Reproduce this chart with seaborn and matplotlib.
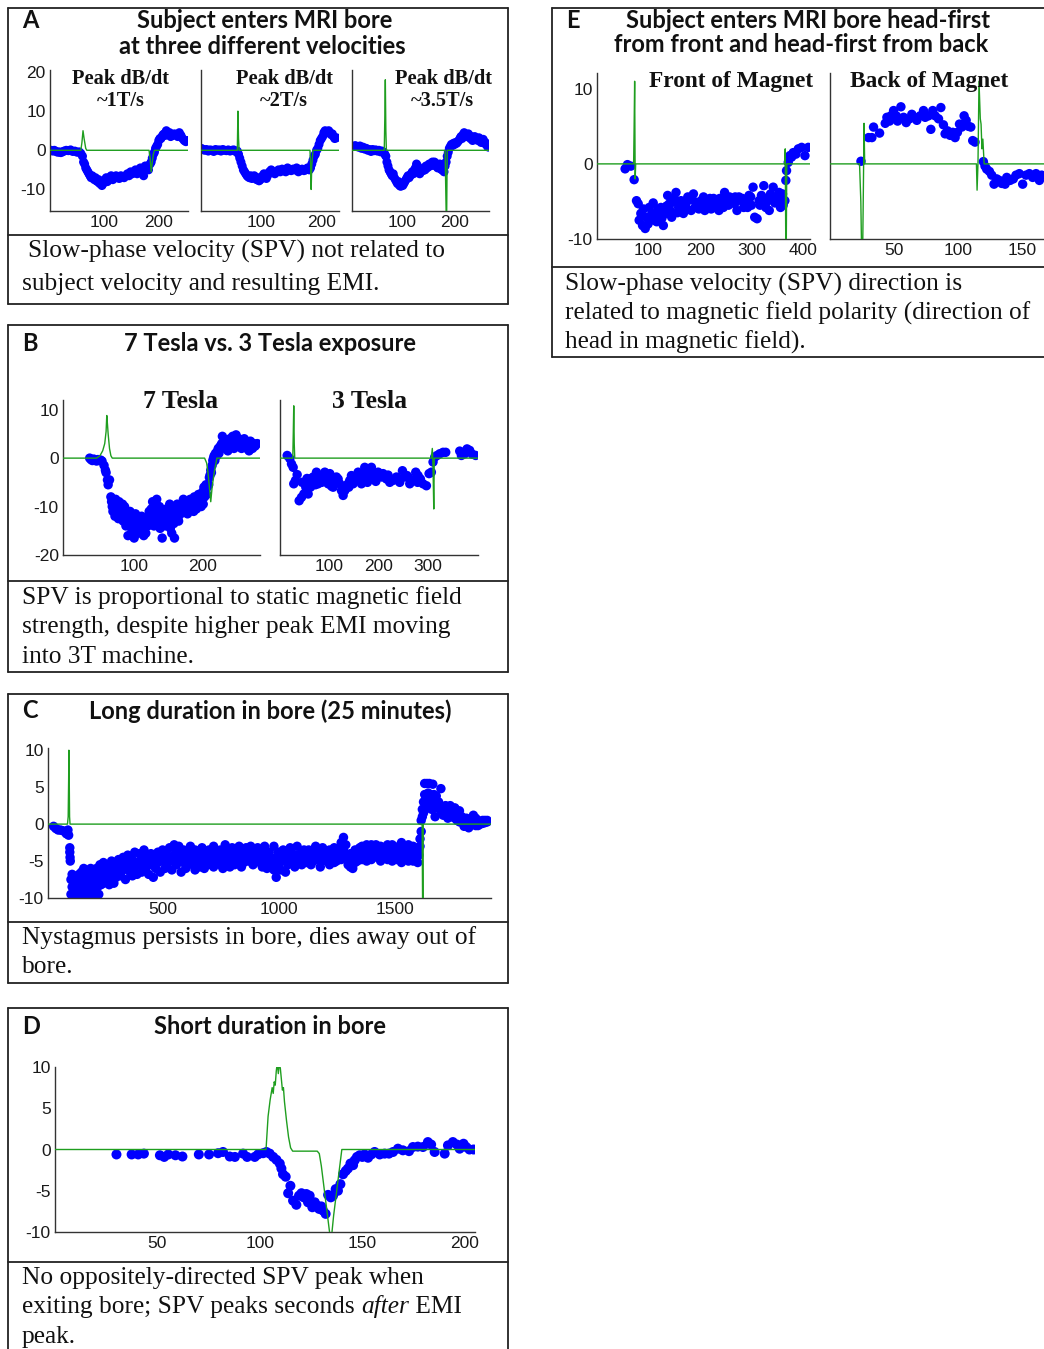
import numpy as np
import pandas as pd
import matplotlib
matplotlib.use("Agg")
import matplotlib.pyplot as plt
import seaborn as sns
from matplotlib.lines import Line2D

sns.set_style("white")
plt.rcParams["font.family"] = ["Liberation Sans", "DejaVu Sans"]
plt.rcParams["axes.unicode_minus"] = False

# ---------------- data (time in s, SPV in deg/s, EMI trace) ----------------
a1_spv = [(2,0),(5,-0.2),(8,0),(11,-0.3),(14,-0.5),(17,-0.4),(20,-0.6),(23,-0.4),(26,-0.2),(30,0),(34,-0.1),(38,0.1),(42,-0.3),(46,-0.2),(50,-0.5),(54,-0.4),(57,-0.8),
          (60,-1.5),(62,-3),(64,-3.5),(66,-4.5),(68,-5),(70,-5.5),(72,-6),(74,-6.5),(76,-7),(78,-6.5),(80,-7),(82,-7.5),(84,-7),(86,-7.8),(88,-8),(90,-7.5),(92,-8.5),(94,-8),(96,-9),(98,-8.5),(100,-8),(102,-7.5),(104,-7),(106,-8),(108,-7.5),(110,-7),
          (113,-6.5),(116,-7.5),(119,-7),(122,-6.5),(125,-7),(128,-7.2),(131,-6.5),(134,-6.8),(137,-7),(140,-6.5),(143,-6),(146,-6.5),(149,-5.5),(152,-6),(155,-5.5),(158,-5),(161,-6),(164,-5),(167,-4.5),(170,-5.5),(173,-6.5),(176,-4),(179,-4.5),(182,-5),(185,-3.5),
          (187,-3),(189,-2),(191,-1),(193,-0.5),(195,0.5),(197,1),(199,1.5),(201,2.5),(203,3),(205,3),(207,3.5),(209,4),(211,4.2),(213,3.8),(215,5),(217,4.5),(219,4),(221,4.5),(223,3.5),(225,4),(227,3.8),
          (230,4.2),(233,4),(236,3.5),(239,4.5),(242,3.8),(245,3),(248,2.5),(251,2.2),(254,2.5)]
a1_emi = [(0,0),(57,0),(59,2),(61,5),(63,3),(66,0.5),(68,0),(183,0),(185,-2),(187,-5.5),(189,-3),(191,-1),(193,0),(255,0)]

a2_spv = [(0,0.5),(3,0.3),(6,0),(9,0.2),(12,-0.2),(15,0.1),(18,0),(21,-0.3),(24,0.2),(27,0),(30,0.1),(33,-0.2),(36,0.2),(39,0),(42,-0.1),(45,0.1),(48,-0.2),(51,0),(54,0.1),(57,-0.3),(60,-0.2),
          (62,-1),(64,-2),(66,-3),(68,-4),(70,-5),(72,-5.5),(74,-6),(76,-6.5),(78,-6.8),(80,-7),(82,-6.5),(84,-7.2),(86,-7),(88,-6.5),(90,-7),(92,-7.5),(94,-7),(96,-7.8),(98,-7.5),(100,-7),(102,-6.5),(104,-6),(106,-6.5),(108,-7.2),(110,-6.5),
          (113,-5.5),(116,-5),(119,-5.5),(122,-6),(125,-5.5),(128,-5),(131,-5.5),(134,-4.8),(137,-5.2),(140,-5.5),(143,-4.5),(146,-5),(149,-5.2),(152,-4.8),(155,-5),(158,-4.5),(161,-5.5),(164,-5),(167,-4.8),(170,-5.2),(173,-5),(176,-4.5),(179,-5),
          (181,-4.5),(183,-3.5),(185,-2.5),(187,-1.5),(189,-1),(191,0),(193,0.5),(195,1.5),(197,2.5),(199,3),(201,3.5),(203,4.5),(205,5),(207,4.8),(209,4.5),(211,5),(213,4.5),(215,4),(217,4.2),(219,3.5),(221,3),(224,3.2)]
a2_emi = [(0,0),(60,0),(61,10),(62,3),(63,0),(180,0),(181,-3),(182,-10),(183,-4),(185,0),(228,0)]

a3_spv = [(9,1),(12,1.2),(15,1),(18,0.8),(21,1.1),(24,0.5),(27,0.8),(30,0.3),(33,0.5),(36,0),(39,0.2),(42,-0.3),(45,0.2),(48,-0.1),(51,0.1),(54,-0.2),(57,0),(60,-0.4),(63,-0.2),(66,-0.5),
          (68,-1),(70,-1.5),(72,-3),(74,-4),(76,-5),(78,-5.5),(80,-6),(82,-6.5),(84,-6),(86,-7),(88,-7.5),(90,-8),(92,-8.5),(94,-8),(96,-9),(98,-9.2),(100,-8.8),(102,-9),(104,-8.5),(106,-8),(108,-7.5),(110,-7),
          (112,-6.5),(114,-7),(116,-6.5),(118,-6),(120,-5.5),(122,-6),(124,-5),(126,-4.5),(128,-3.5),(130,-4),(132,-5.5),(134,-6),(136,-5.5),(138,-5),(140,-5.2),(142,-4.5),(144,-5),(146,-4),(148,-4.5),(150,-4.2),
          (152,-3.5),(154,-4),(156,-3.8),(158,-3),(160,-3.5),(162,-3),(164,-4),(166,-3.5),(168,-4.5),(170,-4),(172,-3.5),(174,-4.8),(176,-5),(178,-4),(180,-5.5),(182,-4),(184,-3),(186,-1.5),(188,-0.5),
          (190,0.5),(192,1),(194,1.5),(196,1.2),(198,1.8),(200,1.5),(202,2),(204,1.8),(206,2.2),(208,2.5),(210,3),(212,3.5),(214,3),(216,4),(218,4.5),(220,4),(222,3.5),(224,3.8),(226,4.2),(228,3.5),
          (230,3),(232,3.5),(234,2.5),(236,3),(238,3.5),(240,3),(242,2.8),(244,2.5),(246,3.2),(248,2.5),(250,2),(252,2.5),(254,2.8),(256,1.8),(258,2),(260,1.5),(262,1),(264,0.8)]
a3_emi = [(6,0),(67,0),(68,8),(69,18),(70,5),(71,0),(182,0),(183,-8),(184,-16),(185,-16),(186,0),(264,0)]

b7_spv = [(35,0),(37,-0.3),(39,-0.5),(41,-0.2),(43,-0.4),(45,-0.6),(47,-0.3),(49,-0.5),(51,-0.4),(53,-0.6),(56,-1.5),(58,-2.5),(59,-3),(61,-4.5),(62,-5.5),(64,-4.5),
          (66,-8),(67,-9),(68,-10),(69,-11),(70,-9.5),(71,-10.5),(72,-12),(73,-8.5),(74,-9.5),(75,-11),(76,-10),(77,-12.5),(78,-9),(79,-10),(80,-11),(81,-12),(82,-10.5),(83,-9.5),(84,-13),(85,-11.5),(86,-10),(87,-12),(88,-14),(89,-11),(90,-13.5),
          (91,-16),(92,-12),(94,-11),(95,-13),(96,-14.5),(97,-12.5),(98,-15),(99,-13),(100,-16.5),(101,-12),(102,-11.5),(103,-14),(105,-13),(106,-15.5),(107,-12.5),(108,-14),(109,-13),(110,-15),(111,-12),(112,-14.5),(114,-16),(115,-13.5),
          (116,-12.5),(117,-15.5),(118,-13),(120,-14),(121,-12),(122,-11),(123,-13.5),(124,-12.5),(125,-10.5),(126,-13),(127,-9),(128,-11.5),(129,-14),(130,-12),(131,-10.5),(132,-13),(133,-8.5),(134,-11),(135,-12),(137,-10),(138,-14.5),
          (139,-13),(140,-12),(141,-16.5),(142,-11),(144,-13.5),(145,-12),(146,-14),(147,-10.5),(148,-12.5),(150,-13),(151,-11),(152,-9.5),(153,-14.5),(154,-12),(155,-15.5),(156,-10),(157,-11.5),(158,-13.5),(159,-16.5),(160,-12),
          (162,-11),(163,-9.5),(164,-12.5),(165,-13),(166,-10.5),(168,-11.5),(170,-9.5),(171,-10),(172,-8.5),(174,-11),(175,-10),(176,-9),(178,-11.5),(179,-9.5),(180,-10.5),(182,-8.5),(183,-10),(184,-9),(186,-9.5),(187,-11),
          (188,-8),(190,-9),(191,-10.5),(192,-8.5),(194,-7.5),(195,-9.5),(196,-8.5),(198,-10),(199,-8),(200,-7),(201,-9.5),(202,-6),(203,-8),(204,-6.5),(205,-5.5),(206,-7.5),(207,-6),(209,-5.5),(210,-4),(211,-3.5),(212,-2.5),
          (213,-3),(214,-1.5),(215,-0.5),(216,0),(217,0.5),(218,-0.5),(219,1),(221,0.5),(222,1.5),(223,2),(224,1),(226,2.5),(227,2),(228,3),(229,4.5),(230,2.5),(232,3),(233,2),(234,3.5),(236,2.5),(237,1.5),(238,3),(240,4),
          (241,2.5),(242,3.5),(244,4.5),(245,3),(246,2),(248,3.5),(249,4.8),(250,3),(252,2.5),(253,4),(254,3.5),(256,3),(257,2),(258,3.5),(260,3),(261,4),(262,2.5),(264,3.5),(265,2),(266,3),(268,1.5),(269,2.5),(270,3.5),
          (272,3),(273,2),(275,3),(277,2.5),(280,3)]
b7_emi = [(-4,0),(45,0),(50,0.5),(54,1.5),(57,3),(59,5.5),(60,8.8),(61,7),(62,5),(64,2),(66,0.5),(68,0),(203,0),(206,-1),(208,-3),(210,-6),(212,-9),(214,-6),(217,-3),(221,0),(284,0)]

b3_spv = [(14.6,0.55),(20,-0.1),(23.4,-1.2),(26.8,-1.9),(28,-5.3),(31.5,-4.6),(34.9,-3.4),(39,-8.8),(43.7,-8.1),(48.5,-7.4),(52.5,-6),(57.3,-7.4),(60.7,-4.3),(64.1,-5.3),(67.5,-3.9),(70.8,-4.6),(74.2,-2.9),
          (77.6,-5.3),(81,-4.3),(84.4,-3.6),(87.8,-4.6),(91.2,-2.9),(94.6,-3.9),(98,-5.3),(101.4,-3.2),(104.7,-4.3),(108.1,-6),(111.5,-4.6),(114.9,-3.9),(118.3,-4.3),(121.7,-5.3),(125.1,-6.7),(128.5,-7.7),(131.9,-6.7),
          (135.3,-5.7),(138.6,-5.3),(142,-4.6),(145.4,-3.6),(148.8,-5.3),(152.2,-3.9),(155.6,-4.6),(159,-2.9),(162.4,-3.9),(165.8,-5.3),(169.2,-3.2),(172.5,-1.9),(175.9,-4.3),(179.3,-3.6),(182.7,-2.6),(186.1,-1.9),
          (189.5,-3.9),(192.9,-3.2),(196.3,-3.9),(199.7,-2.9),(203,-3.6),(206.4,-3.9),(209.8,-3.2),(213.2,-3.6),(216.6,-4.3),(223.4,-5),(230.2,-4.6),(237,-3.9),(243.7,-5),(249.2,-2.6),(253.9,-3.9),(258.6,-3.6),
          (264.1,-5.3),(270.8,-4.6),(276.3,-2.9),(281,-3.6),(285.8,-4.3),(291.2,-5.3),(298,-5.7),(303.4,-3.2),(308.1,-2.9),(311.5,-0.8),(314.9,0.2),(319.7,0.55),(325.1,0.9),(331.9,1.2),(337.3,1.2),
          (365.8,1.45),(369.2,0.55),(376,0.9),(380.7,1.9),(386.1,1.6),(391.5,0.8),(398.3,0.55),
          (45,-5),(55,-4.2),(62,-6),(72,-5.5),(85,-5),(95,-4.5),(105,-5.8),(118,-5),(140,-6),(160,-4.2),(178,-5),(195,-4.8),(220,-3.5),(240,-4.2),(262,-4),(280,-5)]
b3_emi = [(0,0),(26,0),(27,5),(28,10.8),(29,3),(30,0),(308,0),(310,2),(311,0),(312,-5),(313,-10.5),(314,0),(403,0)]

c_spv = [(30,-0.3),(40,-0.6),(50,-0.8),(60,-0.8),(70,-0.9),(80,-1.0),(85,-1.3),(90,-1.2),(92,-0.8),(95,-1.5),(100,-3.2),(100,-3.8),(101,-4.5),(102,-5),
         (105,-7.5),(105,-9.5),(110,-8.5),(110,-6.8),(115,-9.8),(115,-7.8),(120,-8.8),(120,-9.5),(125,-7.2),(125,-8.5),(130,-9),(130,-7.5),(135,-8),(135,-9.8),(140,-6.8),(140,-8.8),(145,-7.8),(145,-9.2),
         (150,-8.5),(150,-6.5),(155,-7),(155,-9),(160,-8.2),(160,-6),(165,-7.5),(165,-9.5),(170,-6.5),(170,-8),(175,-8.8),(175,-7.2),(180,-6.8),(180,-8.2),(185,-7.8),(185,-9),(190,-6),(190,-8.5),
         (195,-7),(195,-10),(200,-8),(200,-6.2),(205,-7.2),(205,-9),(210,-6.5),(210,-8),(215,-7.8),(215,-6),(220,-8.5),(220,-7),(225,-6.8),(225,-9.5),(230,-5.5),(230,-7.5),(235,-7),(235,-8.2),
         (240,-6.2),(240,-7.8),(245,-5.2),(245,-8),(250,-6.5),(250,-7.2),
         (260,-5.5),(260,-7.5),(270,-6.5),(270,-8.2),(280,-5),(280,-7),(290,-6),(290,-8),(300,-5.2),(300,-7.2),(310,-6.5),(310,-4.8),(320,-5.5),(320,-7),(330,-4.5),(330,-6.2),(340,-6),(340,-7.5),
         (350,-5),(350,-4.2),(360,-6.5),(360,-5.5),(370,-4.8),(370,-7),(380,-3.8),(380,-5.8),(390,-5.2),(390,-6.8),(400,-4),(400,-5.5),
         (410,-6.5),(410,-4.5),(420,-3.5),(420,-5),(430,-5.8),(430,-4.2),(440,-6.8),(440,-4.8),(450,-4),(450,-5.5),(460,-7.2),(460,-5),(470,-4.5),(470,-6),(480,-3.8),(480,-5.2),(490,-6.5),(490,-4.2),
         (500,-5),(500,-3.5),(510,-6),(510,-4.5),(520,-4.2),(520,-5.8),(530,-3.2),(530,-5),(540,-4.8),(540,-6.2),(550,-2.8),(550,-4.2),(560,-5.5),(560,-3.5),(570,-3),(570,-4.8),(580,-6.5),(580,-4),
         (590,-3.5),(590,-5.2),(600,-4.5),(600,-6),(610,-3.8),(610,-5),(620,-4.2),(620,-3),(630,-5.5),(630,-4.5),(640,-3.5),(640,-6.2),(650,-4.8),(650,-3.8),(660,-5.8),(660,-4.2),(670,-3.2),(670,-5),
         (680,-4.5),(680,-6),(690,-3.8),(690,-5.2),(700,-4.8),(700,-3.5),(710,-5.5),(710,-4.2),(720,-3),(720,-5.8),(730,-4.5),(730,-3.8),(740,-5.2),(740,-4),(750,-3.5),(750,-5.5),(760,-4.2),(760,-6),
         (770,-2.8),(770,-4.8),(780,-5),(780,-3.5),(790,-4),(790,-5.8),(800,-3.2),(800,-4.5),(810,-5.5),(810,-3.8),(820,-4.2),(820,-5),(830,-3),(830,-4.8),(840,-5.8),(840,-4),(850,-3.5),(850,-5.2),
         (860,-4.5),(860,-3.2),(870,-5),(870,-3.8),(880,-3),(880,-4.5),(890,-5.5),(890,-4),(900,-3.8),(900,-5),(910,-4.5),(910,-3.2),(920,-5.2),(920,-4),(930,-3.5),(930,-5.8),(940,-4.2),(940,-3),
         (950,-5),(950,-6),(960,-3.8),(960,-4.5),(970,-4.8),(970,-5.5),(980,-3),(980,-6.2),(990,-7.2),(990,-4.5),(1000,-5.5),(1000,-3.8),(1010,-6.2),(1010,-4.2),(1020,-4.8),(1020,-3.5),(1030,-6.5),(1030,-5),
         (1040,-4),(1040,-5.5),(1050,-3.2),(1050,-4.8),(1060,-5.2),(1060,-4),(1070,-4.5),(1070,-5.8),(1080,-3),(1080,-4.2),(1090,-5),(1090,-4.5),(1100,-3.8),(1100,-5.5),(1110,-4.8),(1110,-3.5),
         (1120,-5.2),(1120,-4.2),(1130,-3.5),(1130,-4.8),(1140,-5.5),(1140,-4),(1150,-4.2),(1150,-5),(1160,-3),(1160,-4.5),(1170,-4.8),(1170,-3.8),(1180,-5.8),(1180,-4),(1190,-3.2),(1190,-5),
         (1200,-4.5),(1200,-3.8),(1210,-5),(1210,-4.2),(1220,-3.5),(1220,-5.5),(1230,-4),(1230,-4.8),(1240,-5.2),(1240,-3.2),(1250,-4.2),(1250,-5),(1260,-3.5),(1260,-4.5),(1270,-2.5),(1270,-4.8),
         (1280,-1.8),(1280,-3.5),(1290,-2.8),(1290,-4.2),(1300,-4.5),(1300,-5.5),(1310,-5.8),(1310,-4),(1320,-6),(1320,-4.8),(1330,-5.2),(1330,-3.5),(1340,-4),(1340,-5),(1350,-3.2),(1350,-4.5),
         (1360,-4.8),(1360,-3),(1370,-3.5),(1370,-4.2),(1380,-2.8),(1380,-5),(1390,-4),(1390,-3.2),(1400,-4.8),(1400,-2.8),(1410,-3.5),(1410,-4.5),(1420,-2.8),(1420,-4),(1430,-4.2),(1430,-3.2),
         (1440,-3),(1440,-5),(1450,-4.5),(1450,-3.5),(1460,-3.2),(1460,-4.2),(1470,-4.8),(1470,-2.8),(1480,-3.5),(1480,-4.5),(1490,-2.8),(1490,-5),(1500,-4),(1500,-3.2),(1510,-3.5),(1510,-4.8),
         (1520,-4.2),(1520,-3),(1530,-2.5),(1530,-5.2),(1540,-3.8),(1540,-4.5),(1550,-4.5),(1550,-3.2),(1560,-2.8),(1560,-5),(1570,-4),(1570,-3.5),(1580,-5),(1580,-3),(1590,-3.8),(1590,-4.5),
         (1600,-5.2),(1600,-4),(1605,-4.2),(1605,-3.2),(1610,-3),(1610,-2),(1615,-1),(1615,0.5),(1620,1),(1620,2),
         (1625,3),(1625,1.5),(1630,4),(1630,5.5),(1635,3.5),(1635,2.5),(1640,5.5),(1640,3),(1645,4.2),(1645,2.2),(1650,3.5),(1650,5.5),(1655,2.8),(1655,4),(1660,3.5),(1660,2),(1665,5.4),(1665,3.8),
         (1670,2.5),(1670,4),(1675,1),(1675,3.2),(1680,3.8),(1680,2.2),(1690,3),(1690,2.5),(1700,4.8),(1700,1.8),(1710,2.2),(1710,1.2),(1720,1.5),(1720,2.5),(1730,2),(1730,0.8),(1740,2.5),(1740,1.2),
         (1750,1.8),(1750,1),(1760,2.2),(1760,0.8),(1770,1.5),(1770,0.5),(1780,1.8),(1780,0.3),(1790,1),(1790,0.5),(1800,0.5),(1800,-0.3),(1810,0.8),(1810,0.2),(1820,-0.5),(1820,0.3),(1830,0.5),(1830,0),
         (1840,1.2),(1840,0.2),(1850,0.8),(1850,-0.2),(1860,-0.2),(1860,0.5),(1870,0.3),(1870,0),(1880,0.5),(1880,0.1),(1890,0.2),(1890,0.5),(1900,0.5),(1900,0.3)]
c_emi = [(6,0),(90,0),(93,1),(95,6),(96,10),(97,8),(99,1),(101,0),(1619,0),(1620,-5),(1621,-10.5),(1623,-10.5),(1624,0),(1916,0)]

d_spv = [(30,-0.6),(37.4,-0.6),(40.6,-0.6),(43.4,-0.5),(51.2,-0.7),(53.3,-0.9),(55.3,-0.6),(58.8,-0.7),(62.2,-0.85),(70.2,-0.6),(75.2,-0.6),(79.6,-0.45),(82,-0.3),(85.3,-0.85),(87.8,-0.9),
         (91.8,-0.5),(93.8,-0.9),(97.5,-0.9),(99.1,-0.6),(101.6,-0.45),(103.2,-0.3),(104.8,-0.5),(106.5,-0.9),(108.1,-1.25),(109.7,-1.7),(110.5,-2.3),(111.3,-3),(112.6,-3.3),(114.9,-4.4),(113.8,-5.3),
         (116.2,-6.2),(117.8,-6.7),(119.1,-5.6),(120.3,-5.3),(121.4,-5.8),(122.7,-5.4),(123.5,-6.4),(124.3,-5.6),(125.6,-7),(126.8,-6.4),(127.9,-6.8),(128.9,-7.2),(130,-6.9),(130.8,-7.4),(132.1,-7.8),
         (133.3,-5.5),(134.6,-5.8),(135.7,-5.6),(137,-4.8),(138.1,-5),(139.3,-4.2),(140.6,-3),(141.9,-2.6),(143,-2.3),(144.2,-1.7),(145.5,-1.9),(146.3,-1.3),(147.4,-0.9),(148.7,-0.7),(150,-0.9),
         (151.1,-0.6),(152.8,-1),(154.4,-0.6),(156,-0.3),(158.5,-0.6),(160.9,-0.5),(163,-0.5),(165,-0.3),(167.4,0.1),(169.8,-0.1),(172.8,-0.2),(174.7,0.3),(177.1,0.35),(179.6,0.3),(182,0.9),
         (183.6,0.6),(185.3,-0.3),(190.2,-0.5),(191.8,0.5),(194.2,0.9),(196.2,0.6),(197.5,0.1),(199.4,0.7),(200.7,0.3),(202.3,0),(204.3,0)]
d_emi = [(0,0),(103,0),(104,4),(105,6),(106,7.5),(106.5,6.8),(107,8.2),(107.5,7.8),(108,9.5),(108.5,10.5),(109,9.2),(109.5,10.5),(110,9.8),(110.5,8.5),(111,7.2),(111.5,7.5),(112,5.8),(113,3.5),
         (114,1.5),(115,0.2),(116,-0.2),(128,-0.2),(129,-0.5),(130,-2),(132,-6),(134,-10),(135,-10.5),(136,-8),(138,-4),(140,0),(205,0)]

e1_spv = [(54.5,-0.66),(59,-0.1),(65.6,-0.3),(72,-2.1),(76.6,-4.9),(79.9,-5.3),(81.8,-7.5),(85,-6.6),(88.3,-8.2),(93.5,-8.6),(96,-7.1),(101.3,-5.8),(106.5,-6.6),(111,-7.5),(115.6,-7.7),
          (120.8,-6.9),(124,-5.8),(128.6,-8.2),(132.5,-6.6),(137,-4.2),(140.3,-5.3),(144.8,-7.1),(148,-5.1),(153.2,-3.8),(158.4,-5.8),(163,-4.9),(167.5,-6.6),(171.4,-5.5),(176,-4.4),(182.5,-6.2),
          (187,-4),(192.2,-5.1),(197.4,-6),(202,-4.9),(206.5,-4.4),(211.7,-5.5),(216.9,-5.1),(221.4,-6),(226,-4.6),(231.2,-5.3),(236.4,-6.2),(240.9,-5.1),(247.4,-3.8),(252,-4.9),(257,-4.4),
          (262.3,-4.9),(266.9,-5.3),(271.4,-6.2),(275.3,-4.4),(279.9,-4.9),(284.4,-5.8),(289.6,-5.1),(294.8,-4.2),(299.4,-5.5),(302.6,-3.1),(305.8,-7.1),(310.4,-7.3),(314.3,-4.9),(318.8,-4.2),
          (323.4,-2.9),(327.3,-5.8),(331.8,-4.9),(336.4,-4),(341.6,-3.1),(346.8,-4.4),(351.3,-4.9),(355.8,-5.8),(359.7,-4),(364.3,-4.9),(366.2,-2.2),(367.5,-0.9),(370.8,0.2),(374,1.1),(377.3,0.9),
          (380.5,1.5),(385.7,1.3),(390.3,2),(396.8,2.2),(403.2,1.1),(409.7,2.2),
          (90,-6),(99,-8),(109,-5.2),(118,-6),(126,-7.2),(135,-5.6),(142,-6.2),(150,-4.6),(156,-6.5),(165,-5.4),(174,-6),(180,-4.8),(190,-5.8),(200,-5.5),(209,-6.2),(219,-4.6),(229,-5.8),(238,-4.6),
          (245,-5.8),(255,-5.5),(268,-4.4),(282,-4.6),(292,-5.8),(298,-4.4),(316,-5.5),(325,-4.6),(334,-6.2),(345,-5.2),(353,-3.8),(361,-5.5)]
e1_emi = [(0,0),(71,0),(72,5),(73,11),(74,-2),(75,0),(364,0),(365,2),(366,-10.5),(367,-10.5),(368,0),(413,0)]

e2_spv = [(24.1,0.35),(30,3.5),(32.6,3.5),(33.9,4.9),(38.6,4.1),(43,5.4),(44.3,6.2),(46.4,5.7),(47.4,6.4),(49.5,7.1),(51.6,6.4),(52.6,5.7),(55.2,7.6),(57.3,6.2),(59.3,5.5),(61.9,6),(63.7,6.6),
          (65.5,6.2),(67.6,5.8),(70.2,6.4),(72.8,7.1),(74.1,6.2),(76.7,6.4),(78.5,4.6),(80,7.1),(81.9,6.4),(84.5,6),(86.3,7.5),(88.3,5.2),(89.6,4),(91.5,4.4),(93.5,3.8),(95.6,4.2),(97.4,3.5),
          (99.2,4.2),(100.8,5.3),(102.6,4.9),(104.4,6.4),(106,5.8),(107.8,5),(109.6,4.9),(111.1,3.1),(112.9,2.9),(119.4,0.3),(120.7,-0.3),(122,-0.7),(124.1,-1),(125.9,-1.5),(127.7,-2.7),(129.8,-2),
          (131.9,-2.2),(133.7,-2.6),(136.3,-2.7),(137.6,-1.8),(140.2,-2.2),(142.7,-2),(144.8,-1.5),(147.4,-1.3),(150,-2.7),(152.6,-1.5),(155.2,-1.3),(157.8,-1.8),(160.4,-1.3),(163,-2.2),(164.8,-1.5)]
e2_emi = [(0,0),(23,0),(24,-5),(24.5,-10.5),(25.5,-10.5),(26,-3),(26.5,5.4),(27,0),(113,0),(114,0),(114.5,-3.5),(115.2,0),(116,11),(117,6),(117.6,5.3),(118.3,2),(119,3.3),(120,0),(166.6,0)]

# ---------------- layout helpers (pixel coordinates, top-left origin) ----------------
W, H = 1044, 1349
fig = plt.figure(figsize=(W / 100, H / 100), dpi=100)
BLUE = "#0000ff"
GREEN = "#1f9e1f"
AXC = "#333333"

def ax_at(l, t, r, b):
    return fig.add_axes([l / W, 1 - b / H, (r - l) / W, (b - t) / H])

def txt(x, y, s, **kw):
    kw.setdefault("va", "center")
    return fig.text(x / W, 1 - y / H, s, **kw)

def hline(x1, x2, y, lw=1.3):
    fig.add_artist(Line2D([x1 / W, x2 / W], [1 - y / H, 1 - y / H], color="#222222", lw=lw))

def vline(x, y1, y2, lw=1.3):
    fig.add_artist(Line2D([x / W, x / W], [1 - y1 / H, 1 - y2 / H], color="#222222", lw=lw))

def panel(ax, spv, emi, xlim, ylim, xticks, yticks, ylabels=True, s=40):
    d = pd.DataFrame(spv, columns=["t", "spv"])
    e = pd.DataFrame(emi, columns=["t", "emi"])
    sns.scatterplot(data=d, x="t", y="spv", ax=ax, color=BLUE, s=s, edgecolor="none", linewidth=0, zorder=2)
    sns.lineplot(data=e, x="t", y="emi", ax=ax, color=GREEN, linewidth=1.0, estimator=None, sort=False, zorder=3)
    ax.set_xlim(*xlim)
    ax.set_ylim(*ylim)
    ax.set_xticks(xticks)
    ax.set_yticks(yticks)
    ax.set_xlabel("")
    ax.set_ylabel("")
    ax.patch.set_alpha(0)
    for sp in ["top", "right"]:
        ax.spines[sp].set_visible(False)
    for sp in ["left", "bottom"]:
        ax.spines[sp].set_color(AXC)
        ax.spines[sp].set_linewidth(1.0)
    ax.tick_params(direction="in", length=4, width=0.8, colors=AXC, labelcolor="#1a1a1a", labelsize=12.5, pad=3)
    if not ylabels:
        ax.set_yticklabels([])
    return ax

TITLE = dict(family="Lato", weight="bold", fontsize=17, color="#111111")
CAP = dict(family="Liberation Serif", fontsize=18.3, color="#111111")

# ---------------- Panel A ----------------
hline(8, 508, 8); hline(8, 508, 304); hline(8, 508, 235)
vline(8, 8, 304); vline(508, 8, 304)
txt(22, 21, "A", ha="left", **TITLE)
txt(265, 21, "Subject enters MRI bore", ha="center", **TITLE)
txt(262, 46, "at three different velocities", ha="center", **TITLE)
ylimA = (-15.5, 20.5)
panel(ax_at(50, 70, 188, 211), a1_spv, a1_emi, (0, 255), ylimA, [100, 200], [-10, 0, 10, 20], s=42)
panel(ax_at(201, 70, 339, 211), a2_spv, a2_emi, (0, 228), ylimA, [100, 200], [-10, 0, 10, 20], ylabels=False, s=42)
panel(ax_at(352, 70, 489, 211), a3_spv, a3_emi, (6, 265), ylimA, [100, 200], [-10, 0, 10, 20], ylabels=False, s=42)
SUBA = dict(family="Liberation Serif", weight="bold", fontsize=14.7, color="#111111", ha="center")
txt(121, 79, "Peak dB/dt", **SUBA); txt(121, 101, "~1T/s", **SUBA)
txt(284, 79, "Peak dB/dt", **SUBA); txt(284, 101, "~2T/s", **SUBA)
txt(443, 79, "Peak dB/dt", **SUBA); txt(442, 101, "~3.5T/s", **SUBA)
txt(28, 251, "Slow-phase velocity (SPV) not related to", ha="left", **CAP)
txt(22, 284, "subject velocity and resulting EMI.", ha="left", **CAP)

# ---------------- Panel B ----------------
hline(8, 508, 325); hline(8, 508, 672); hline(8, 508, 581)
vline(8, 325, 672); vline(508, 325, 672)
txt(22, 343, "B", ha="left", **TITLE)
txt(270, 343, "7 Tesla vs. 3 Tesla exposure", ha="center", **TITLE)
ylimB = (-20, 12)
panel(ax_at(63, 400, 260, 555), b7_spv, b7_emi, (-4, 284), ylimB, [100, 200], [-20, -10, 0, 10], s=46)
panel(ax_at(280, 400, 478, 555), b3_spv, b3_emi, (0, 403), ylimB, [100, 200, 300], [-10, 0, 10], ylabels=False, s=46)
SUBB = dict(family="Liberation Serif", weight="bold", fontsize=18.5, color="#111111", ha="center")
txt(181, 402, "7 Tesla", **SUBB)
txt(370, 402, "3 Tesla", **SUBB)
txt(22, 598, "SPV is proportional to static magnetic field", ha="left", **CAP)
txt(22, 627, "strength, despite higher peak EMI moving", ha="left", **CAP)
txt(22, 657, "into 3T machine.", ha="left", **CAP)

# ---------------- Panel C ----------------
hline(8, 508, 694); hline(8, 508, 983); hline(8, 508, 922)
vline(8, 694, 983); vline(508, 694, 983)
txt(22, 711, "C", ha="left", **TITLE)
txt(270, 711, "Long duration in bore (25 minutes)", ha="center", **TITLE)
panel(ax_at(48, 748, 491, 898), c_spv, c_emi, (6, 1916), (-10, 10.3), [500, 1000, 1500], [-10, -5, 0, 5, 10], s=46)
txt(22, 938, "Nystagmus persists in bore, dies away out of", ha="left", **CAP)
txt(22, 967, "bore.", ha="left", **CAP)

# ---------------- Panel D ----------------
hline(8, 508, 1008); hline(8, 508, 1262)
vline(8, 1008, H); vline(508, 1008, H)
txt(22, 1026, "D", ha="left", **TITLE)
txt(270, 1026, "Short duration in bore", ha="center", **TITLE)
panel(ax_at(55, 1067, 475, 1232), d_spv, d_emi, (0, 205), (-10, 10), [50, 100, 150, 200], [-10, -5, 0, 5, 10], s=52)
txt(22, 1278, "No oppositely-directed SPV peak when", ha="left", **CAP)
t1 = txt(22, 1307, "exiting bore; SPV peaks seconds ", ha="left", **CAP)
renderer = fig.canvas.get_renderer()
bb = t1.get_window_extent(renderer=renderer)
t2 = fig.text(bb.x1 / W, 1 - 1307 / H, "after", ha="left", va="center", style="italic", **CAP)
bb2 = t2.get_window_extent(renderer=renderer)
fig.text(bb2.x1 / W, 1 - 1307 / H, " EMI", ha="left", va="center", **CAP)
txt(22, 1337, "peak.", ha="left", **CAP)

# ---------------- Panel E ----------------
hline(552, W, 8); hline(552, W, 357); hline(552, W, 267)
vline(552, 8, 357)
txt(566, 21, "E", ha="left", **TITLE)
txt(808, 21, "Subject enters MRI bore head-first", ha="center", **TITLE)
txt(801, 45, "from front and head-first from back", ha="center", **TITLE)
ylimE = (-10, 12.1)
panel(ax_at(597, 73, 810, 239), e1_spv, e1_emi, (0, 413), ylimE, [100, 200, 300, 400], [-10, 0, 10], s=46)
panel(ax_at(830, 73, 1044, 239), e2_spv, e2_emi, (0, 166.6), ylimE, [50, 100, 150], [-10, -5, 0, 5, 10], ylabels=False, s=46)
SUBE = dict(family="Liberation Serif", weight="bold", fontsize=16.8, color="#111111", ha="center")
txt(731, 81, "Front of Magnet", **SUBE)
txt(929, 81, "Back of Magnet", **SUBE)
txt(565, 284, "Slow-phase velocity (SPV) direction is", ha="left", **CAP)
txt(565, 313, "related to magnetic field polarity (direction of", ha="left", **CAP)
txt(565, 342, "head in magnetic field).", ha="left", **CAP)

fig.savefig("out.png", dpi=100, facecolor="white")
